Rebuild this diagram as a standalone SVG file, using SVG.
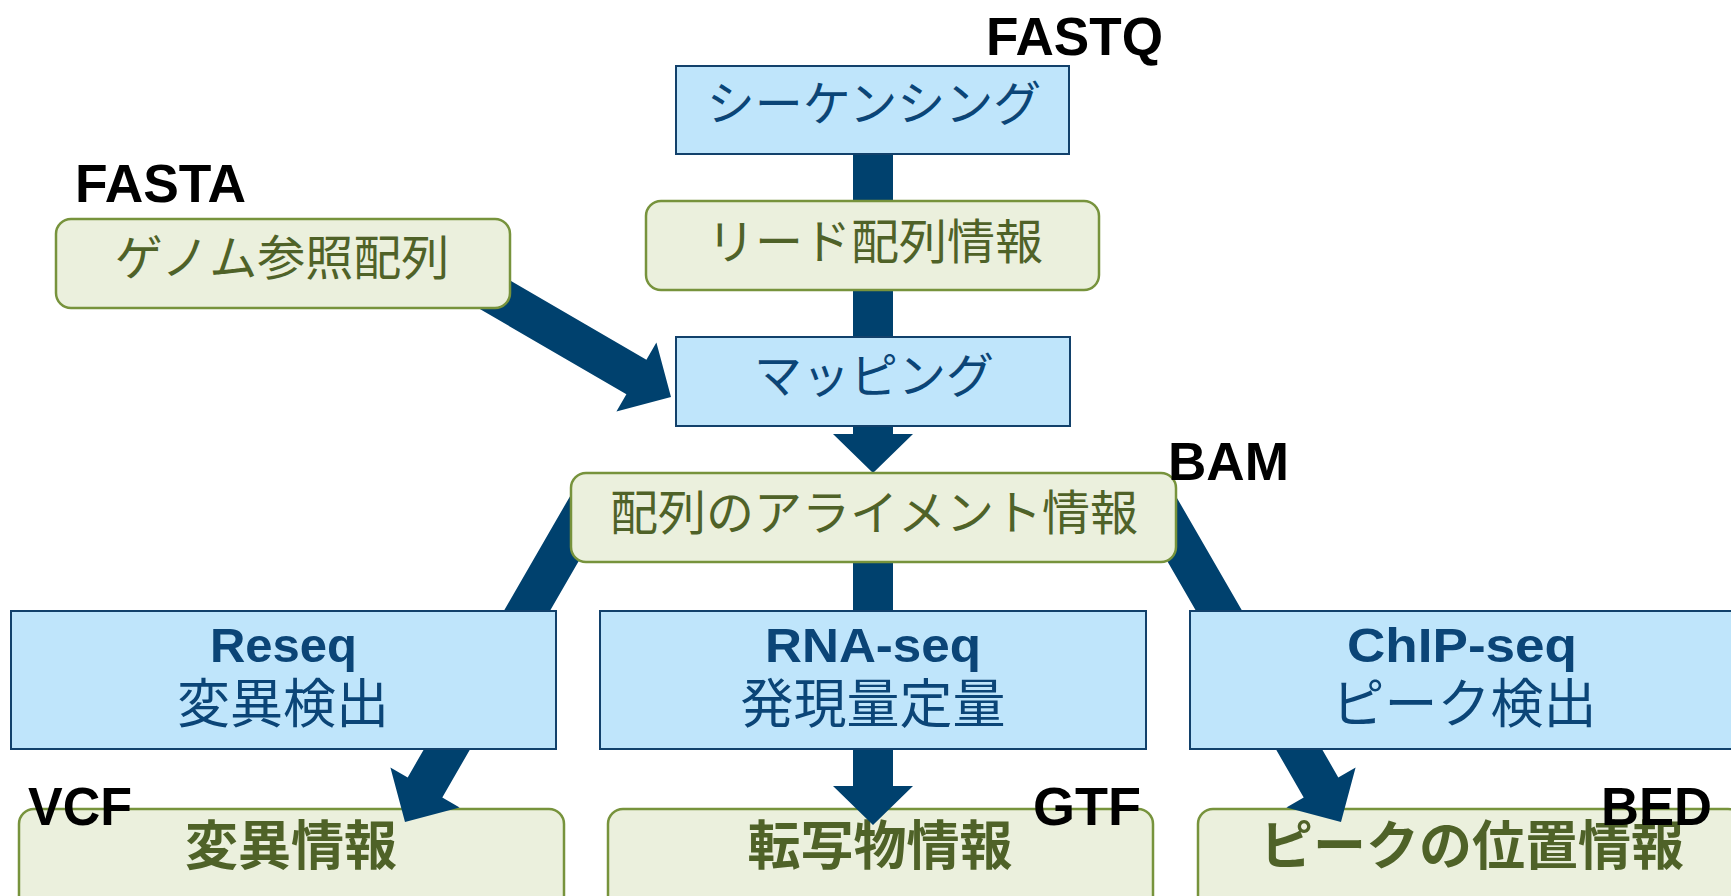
<svg xmlns="http://www.w3.org/2000/svg" width="1731" height="896" viewBox="0 0 1731 896">
<style>
.blue{fill:#bfe5fb;stroke:#12416b;stroke-width:2}
.green{fill:#ebf0dd;stroke:#77933c;stroke-width:2.5}
.arrow{fill:#00416e}
.jb{font-family:"Noto Sans CJK JP","Noto Sans",sans-serif;fill:#0b4577;text-anchor:middle}
.jg{font-family:"Noto Sans CJK JP","Noto Sans",sans-serif;fill:#4f6228;text-anchor:middle}
.lat{font-family:"Liberation Sans",Arial,sans-serif;font-weight:bold;fill:#0b4577;text-anchor:middle;font-size:49px}
.fmt{font-family:"Liberation Sans",Arial,sans-serif;font-weight:bold;fill:#000;font-size:54px}
</style>
<rect width="1731" height="896" fill="#fff"/>
<g id="var-info">
<rect class="green" x="19" y="809" width="545" height="110" rx="15"/>
<text class="jg" x="291" y="865" font-size="53" font-weight="bold">変異情報</text>
</g>
<g id="tx-info">
<rect class="green" x="608" y="809" width="545" height="110" rx="15"/>
<text class="jg" x="880" y="865" font-size="53" font-weight="bold">転写物情報</text>
</g>
<g id="peak-info">
<rect class="green" x="1198" y="809" width="545" height="110" rx="15"/>
<text class="jg" x="1472" y="865" font-size="53" font-weight="bold">ピークの位置情報</text>
</g>
<g id="connectors">
<rect class="arrow" x="853" y="150" width="40" height="190"/>
<polygon class="arrow" points="853,420 893,420 893,434 913,434 873,473 833,434 853,434"/>
<polygon class="arrow" points="455,248.4 646.4,359.7 656.4,342.4 671,397 616.4,411.6 626.4,394.3 435,283"/>
<polygon class="arrow" points="853,540 893,540 893,786 913,786 873,825 833,786 853,786"/>
<polygon class="arrow" points="576.7,484.7 407.7,777.4 390.4,767.4 405,822 459.6,807.4 442.3,797.4 611.3,504.7"/>
<polygon class="arrow" points="1169.3,484.7 1338.3,777.4 1355.6,767.4 1341,822 1286.4,807.4 1303.7,797.4 1134.7,504.7"/>
</g>
<g id="sequencing">
<rect class="blue" x="676" y="66" width="393" height="88"/>
<text class="jb" x="874" y="121" font-size="48">シーケンシング</text>
</g>
<g id="read-info">
<rect class="green" x="646" y="201" width="453" height="89" rx="15"/>
<text class="jg" x="875" y="259" font-size="48">リード配列情報</text>
</g>
<g id="genome">
<rect class="green" x="56" y="219" width="454" height="89" rx="15"/>
<text class="jg" x="282" y="275" font-size="48">ゲノム参照配列</text>
</g>
<g id="mapping">
<rect class="blue" x="676" y="337" width="394" height="89"/>
<text class="jb" x="874" y="393" font-size="48">マッピング</text>
</g>
<g id="alignment">
<rect class="green" x="571" y="473" width="605" height="89" rx="15"/>
<text class="jg" x="874" y="530" font-size="48">配列のアライメント情報</text>
</g>
<g id="reseq">
<rect class="blue" x="11" y="611" width="545" height="138"/>
<text class="lat" x="283.5" y="662" textLength="147" lengthAdjust="spacingAndGlyphs">Reseq</text>
<text class="jb" x="283" y="723" font-size="53">変異検出</text>
</g>
<g id="rnaseq">
<rect class="blue" x="600" y="611" width="546" height="138"/>
<text class="lat" x="873" y="662" textLength="216" lengthAdjust="spacingAndGlyphs">RNA-seq</text>
<text class="jb" x="873" y="723" font-size="53">発現量定量</text>
</g>
<g id="chipseq">
<rect class="blue" x="1190" y="611" width="560" height="138"/>
<text class="lat" x="1462" y="662" textLength="230" lengthAdjust="spacingAndGlyphs">ChIP-seq</text>
<text class="jb" x="1464" y="723" font-size="53">ピーク検出</text>
</g>
<g id="labels">
<text class="fmt" x="986" y="55" textLength="177" lengthAdjust="spacingAndGlyphs">FASTQ</text>
<text class="fmt" x="75" y="202" textLength="171" lengthAdjust="spacingAndGlyphs">FASTA</text>
<text class="fmt" x="1168" y="480" textLength="121" lengthAdjust="spacingAndGlyphs">BAM</text>
<text class="fmt" x="28" y="825" textLength="104" lengthAdjust="spacingAndGlyphs">VCF</text>
<text class="fmt" x="1033" y="825" textLength="108" lengthAdjust="spacingAndGlyphs">GTF</text>
<text class="fmt" x="1601" y="825" textLength="111" lengthAdjust="spacingAndGlyphs">BED</text>
</g>
</svg>
